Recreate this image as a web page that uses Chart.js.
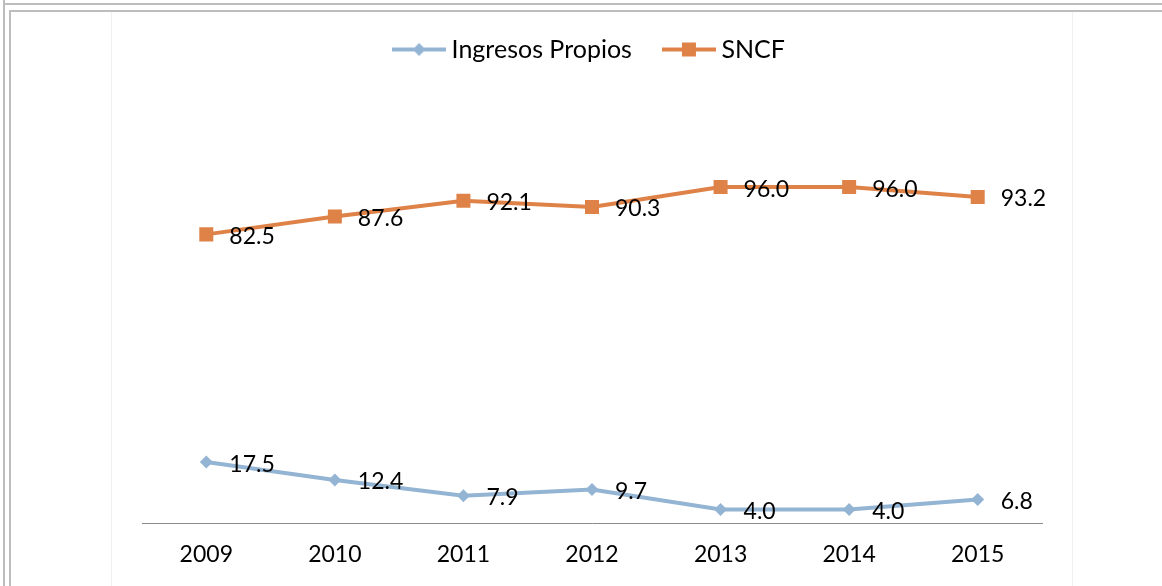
<!DOCTYPE html>
<html>
<head>
<meta charset="utf-8">
<script src="https://cdn.jsdelivr.net/npm/chart.js@4.4.1/dist/chart.umd.min.js"></script>
<style>
  html, body { margin:0; padding:0; background:#fff; }
  body { width:1162px; height:586px; position:relative; overflow:hidden; }
  .ln { position:absolute; background:#bdbdbd; }
  .fl { position:absolute; background:#f0f0f0; }
  #wrap { position:absolute; left:0; top:0; width:1162px; height:586px; }
</style>
</head>
<body>
<div class="ln" style="left:3px;top:0;width:2px;height:586px;"></div>
<div class="ln" style="left:3px;top:3px;width:1159px;height:2px;"></div>
<div class="ln" style="left:9px;top:10px;width:2px;height:576px;"></div>
<div class="ln" style="left:9px;top:10px;width:1153px;height:2px;"></div>
<div class="fl" style="left:111px;top:12px;width:1px;height:574px;"></div>
<div class="fl" style="left:1072px;top:12px;width:1px;height:574px;"></div>
<div id="wrap"><canvas id="c" width="1162" height="586"></canvas></div>
<script>
const categories = ['2009','2010','2011','2012','2013','2014','2015'];
const ingresosPropios = [17.5, 12.4, 7.9, 9.7, 4.0, 4.0, 6.8];
const sncf = [82.5, 87.6, 92.1, 90.3, 96.0, 96.0, 93.2];
const seriesNames = ['Ingresos Propios', 'SNCF'];

const BLUE = '#94B4D4';
const ORANGE = '#DE8248';
const FONT = 'Lato, "Open Sans", sans-serif';

function legendIcon(color, style) {
  const c = document.createElement('canvas');
  c.width = 54; c.height = 16;
  const g = c.getContext('2d');
  g.strokeStyle = color; g.lineWidth = 4;
  g.beginPath(); g.moveTo(0, 8); g.lineTo(54, 8); g.stroke();
  g.fillStyle = color;
  if (style === 'diamond') {
    g.beginPath(); g.moveTo(27, 1.5); g.lineTo(33.5, 8); g.lineTo(27, 14.5); g.lineTo(20.5, 8); g.closePath(); g.fill();
  } else {
    g.fillRect(20, 1, 14, 14);
  }
  return c;
}
const icons = [legendIcon(BLUE, 'diamond'), legendIcon(ORANGE, 'square')];

const valueLabels = {
  id: 'valueLabels',
  afterDatasetsDraw(chart) {
    const ctx = chart.ctx;
    ctx.save();
    ctx.font = '23px ' + FONT;
    ctx.fillStyle = '#000';
    ctx.textAlign = 'left';
    ctx.textBaseline = 'middle';
    chart.data.datasets.forEach((ds, i) => {
      const meta = chart.getDatasetMeta(i);
      meta.data.forEach((pt, j) => {
        ctx.fillText(ds.data[j].toFixed(1), pt.x + 23, pt.y + 2);
      });
    });
    ctx.restore();
  }
};

const legendSpace = {
  id: 'legendSpace',
  beforeUpdate(chart) {
    const lg = chart.legend;
    if (lg && !lg._patched) {
      const f = lg.fit;
      lg.fit = function () { f.call(this); this.height = 103; };
      lg._patched = true;
    }
  }
};

new Chart(document.getElementById('c'), {
  type: 'line',
  data: {
    labels: categories,
    datasets: [
      {
        label: seriesNames[0], data: ingresosPropios,
        borderColor: BLUE, backgroundColor: BLUE, borderWidth: 4,
        pointStyle: 'rectRot', pointRadius: 6.5, pointHoverRadius: 6.5,
        pointBackgroundColor: BLUE, pointBorderWidth: 0, tension: 0
      },
      {
        label: seriesNames[1], data: sncf,
        borderColor: ORANGE, backgroundColor: ORANGE, borderWidth: 4,
        pointStyle: 'rect', pointRadius: 9.9, pointHoverRadius: 9.9,
        pointBackgroundColor: ORANGE, pointBorderWidth: 0, tension: 0
      }
    ]
  },
  options: {
    responsive: false,
    animation: false,
    events: [],
    layout: { padding: { left: 142, right: 120, top: 0, bottom: 0 } },
    plugins: {
      tooltip: { enabled: false },
      legend: {
        display: true,
        position: 'top',
        labels: {
          usePointStyle: true,
          pointStyleWidth: 40,
          padding: 37,
          color: '#000',
          font: { family: FONT, size: 25 },
          generateLabels(chart) {
            return chart.data.datasets.map((ds, i) => ({
              text: ds.label,
              pointStyle: icons[i],
              fillStyle: ds.borderColor,
              strokeStyle: ds.borderColor,
              lineWidth: 0,
              hidden: false,
              datasetIndex: i,
              fontColor: '#000'
            }));
          }
        }
      }
    },
    scales: {
      x: {
        offset: true,
        grid: { display: false, drawTicks: false },
        border: { display: true, color: '#8a8a8a', width: 1 },
        ticks: { color: '#000', padding: 17.5, font: { family: FONT, size: 23 }, maxRotation: 0, autoSkip: false }
      },
      y: {
        display: false,
        min: 0,
        max: 120
      }
    }
  },
  plugins: [legendSpace, valueLabels]
});
</script>
</body>
</html>
